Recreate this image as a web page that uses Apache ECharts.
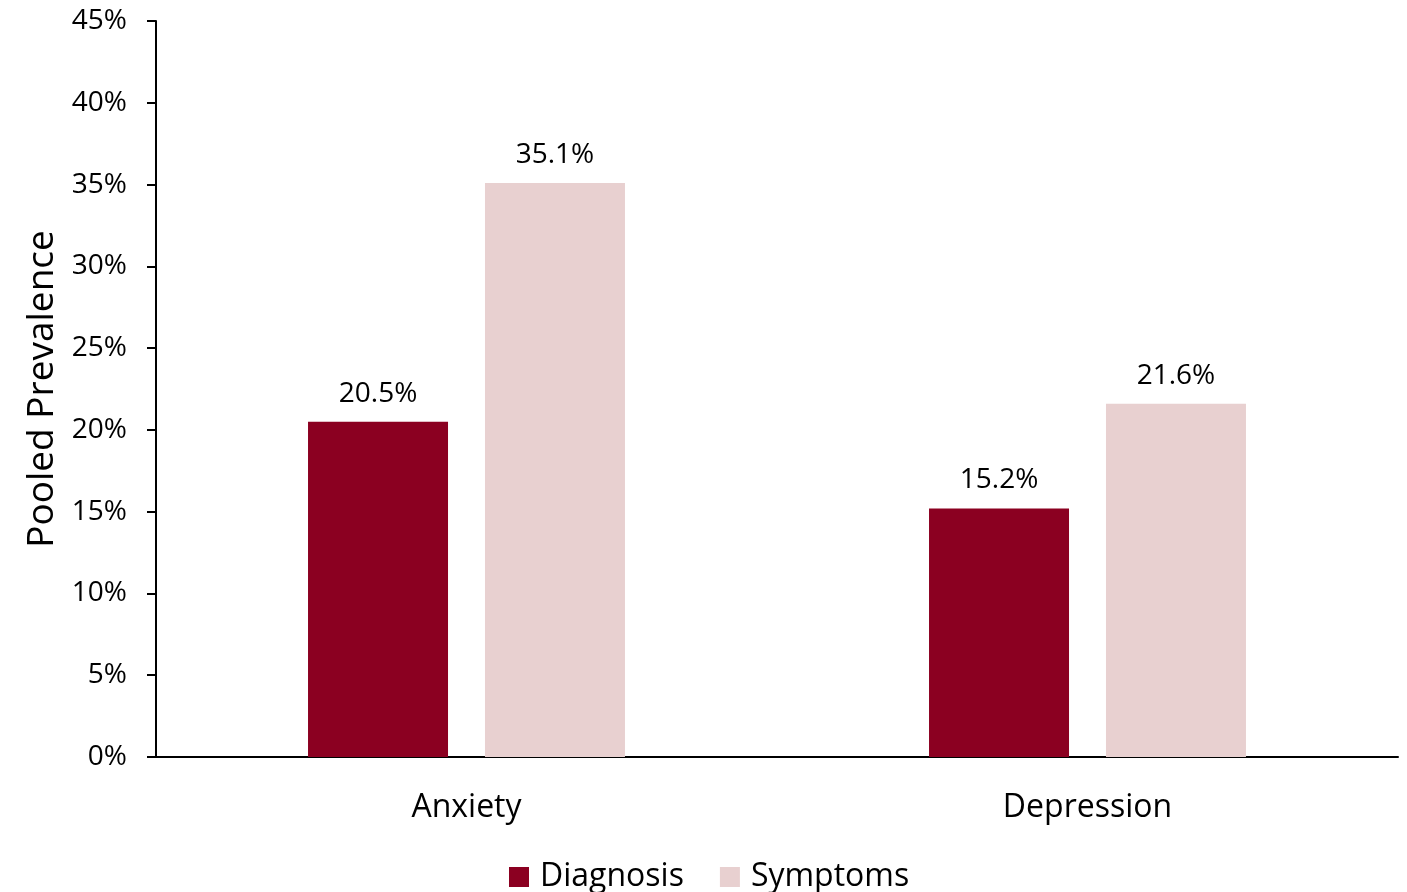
<!DOCTYPE html>
<html>
<head>
<meta charset="utf-8">
<script src="https://cdn.jsdelivr.net/npm/echarts@6/dist/echarts.min.js"></script>
<style>html,body{margin:0;padding:0;background:#fff;}#chart{width:1407px;height:892px;}</style>
</head>
<body>
<div id="chart"></div>
<script>
const categories = ['Anxiety', 'Depression'];
const diagnosis = [20.5, 15.2];
const symptoms = [35.1, 21.6];
const seriesNames = ['Diagnosis', 'Symptoms'];

const FONT = 'Open Sans';
const chart = echarts.init(document.getElementById('chart'), null, {renderer: 'canvas'});
chart.setOption({
  animation: false,
  textStyle: {fontFamily: FONT, color: '#000'},
  grid: {left: 156, right: 9, top: 21, bottom: 135, containLabel: false},
  legend: {
    data: seriesNames,
    left: 504, top: 856,
    itemWidth: 20, itemHeight: 20, itemGap: 36,
    icon: 'rect',
    textStyle: {fontFamily: FONT, fontSize: 32, color: '#000', padding: [0, 0, 0, 6]}
  },
  xAxis: {
    type: 'category',
    data: categories,
    axisLine: {lineStyle: {color: '#000', width: 2}},
    axisTick: {show: false},
    axisLabel: {fontFamily: FONT, fontSize: 32, color: '#000', margin: 35}
  },
  yAxis: {
    type: 'value',
    min: 0, max: 45, interval: 5,
    name: 'Pooled Prevalence',
    nameLocation: 'middle',
    nameGap: 94,
    nameTextStyle: {fontFamily: FONT, fontSize: 37, color: '#000'},
    axisLine: {show: true, lineStyle: {color: '#000', width: 2}},
    axisTick: {show: true, length: 9, lineStyle: {color: '#000', width: 2}},
    splitLine: {show: false},
    axisLabel: {fontFamily: FONT, fontSize: 28, color: '#000', margin: 29, formatter: '{value}%'}
  },
  series: [
    {
      name: seriesNames[0], type: 'bar', data: diagnosis,
      barWidth: 140, barGap: '26.4%',
      itemStyle: {color: '#8B0021'},
      label: {show: true, position: 'top', distance: 14, fontFamily: FONT, fontSize: 28, color: '#000', formatter: p => p.value.toFixed(1) + '%'}
    },
    {
      name: seriesNames[1], type: 'bar', data: symptoms,
      barWidth: 140, barGap: '26.4%',
      itemStyle: {color: '#E8D0D0'},
      label: {show: true, position: 'top', distance: 14, fontFamily: FONT, fontSize: 28, color: '#000', formatter: p => p.value.toFixed(1) + '%'}
    }
  ]
});
</script>
</body>
</html>
